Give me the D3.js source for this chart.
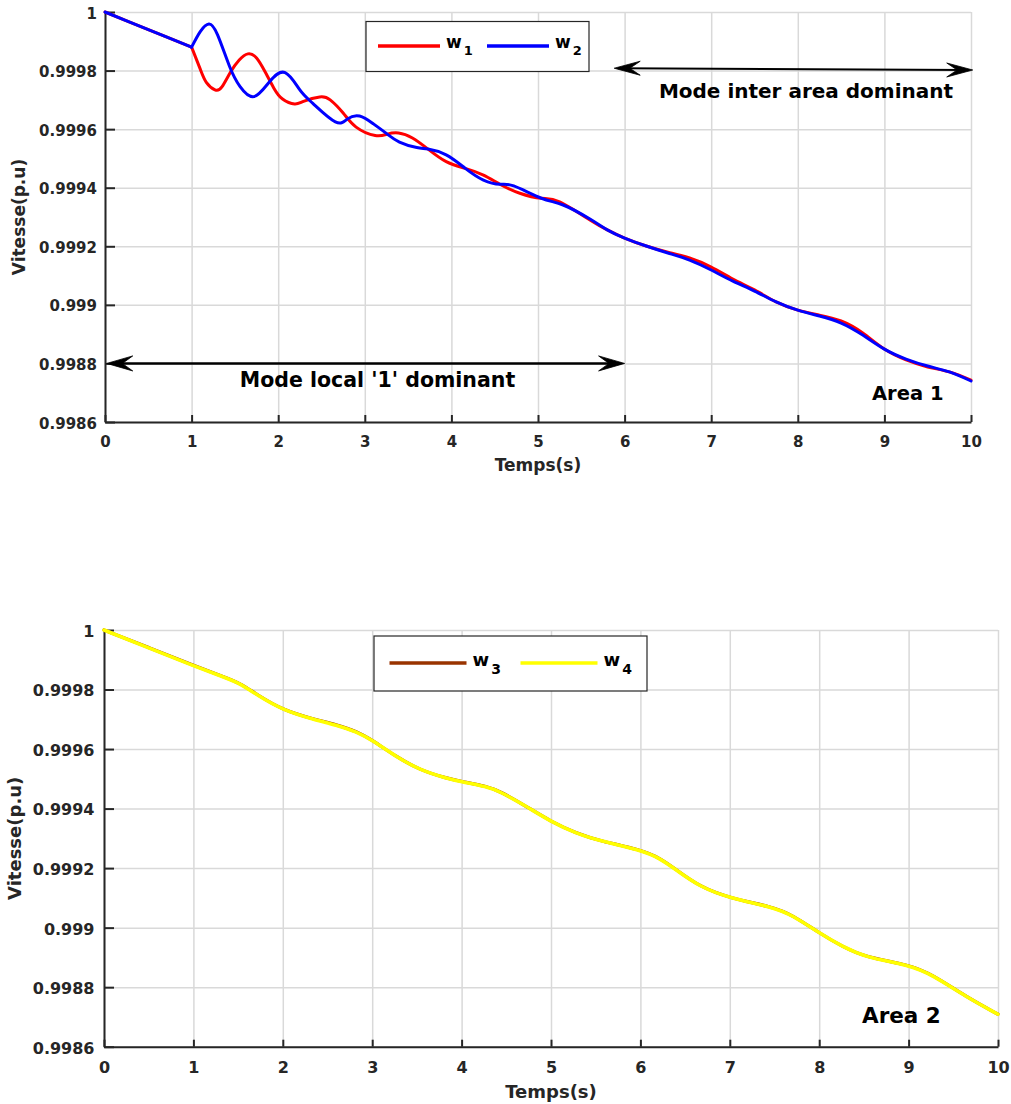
<!DOCTYPE html>
<html>
<head>
<meta charset="utf-8">
<script src="https://cdn.jsdelivr.net/npm/d3@7"></script>
<style>
  html, body { margin: 0; padding: 0; background: #fff; }
  svg { display: block; }
  text { font-family: "DejaVu Sans", sans-serif; font-weight: bold; }
</style>
</head>
<body>
<svg id="chart" width="1011" height="1104"></svg>
<script>
// ---- axis ticks ----
const timeTicks = [0, 1, 2, 3, 4, 5, 6, 7, 8, 9, 10];
const speedTicks = [0.9986, 0.9988, 0.999, 0.9992, 0.9994, 0.9996, 0.9998, 1];
const speedTickLabels = ["0.9986", "0.9988", "0.999", "0.9992", "0.9994", "0.9996", "0.9998", "1"];

// ---- Area 1: rotor speeds (p.u.) ----
const w1Time = [0, 0.5, 1.0, 1.1, 1.17, 1.27, 1.35, 1.45, 1.55, 1.65, 1.75, 1.85, 1.95, 2.05, 2.19, 2.3, 2.48, 2.6, 2.75, 2.9,
  3.12, 3.26, 3.39, 3.55, 3.73, 3.94, 4.16, 4.37, 4.56, 4.79, 5.04, 5.25, 5.6, 5.8, 6.0, 6.25, 6.5, 6.75, 7.0, 7.25, 7.5,
  7.75, 8.0, 8.25, 8.5, 8.75, 9.0, 9.25, 9.5, 9.75, 10];
const w1Speed = [1.000000, 0.999940, 0.999880, 0.999805, 0.999760, 0.999734, 0.999744, 0.999795, 0.999836, 0.999857,
  0.999843, 0.999795, 0.999740, 0.999703, 0.999686, 0.999696, 0.999710, 0.999700, 0.999655, 0.999607,
  0.999578, 0.999583, 0.999587, 0.999570, 0.999532, 0.999489, 0.999466, 0.999443, 0.999412, 0.999381,
  0.999364, 0.999352, 0.999290, 0.999256, 0.999228, 0.999201, 0.999180, 0.999160, 0.999129, 0.999088,
  0.999051, 0.999010, 0.998982, 0.998965, 0.998945, 0.998904, 0.998849, 0.998812, 0.998788, 0.998771, 0.998743];

const w2Time = [0, 0.5, 1.0, 1.1, 1.2, 1.3, 1.44, 1.56, 1.72, 1.9, 2.08, 2.25, 2.4, 2.66, 2.8, 2.94, 3.1, 3.26, 3.4, 3.6,
  3.73, 3.94, 4.16, 4.37, 4.56, 4.72, 5.04, 5.29, 5.6, 5.8, 6.0, 6.25, 6.5, 6.75, 7.0, 7.25, 7.5, 7.75, 8.0, 8.25,
  8.5, 8.75, 9.0, 9.25, 9.5, 9.75, 10];
const w2Speed = [1.000000, 0.999940, 0.999880, 0.999933, 0.999959, 0.999922, 0.999813, 0.999745, 0.999711, 0.999762,
  0.999793, 0.999734, 0.999688, 0.999625, 0.999635, 0.999645, 0.999618, 0.999583, 0.999556, 0.999537,
  0.999532, 0.999512, 0.999466, 0.999426, 0.999412, 0.999406, 0.999364, 0.999341, 0.999293, 0.999256,
  0.999228, 0.999201, 0.999177, 0.999153, 0.999119, 0.999081, 0.999047, 0.999010, 0.998982, 0.998962,
  0.998938, 0.998897, 0.998849, 0.998815, 0.998791, 0.998771, 0.998740];

// ---- Area 2: rotor speeds (p.u.) ----
const area2Time = [0, 0.5, 1.0, 1.33, 1.52, 1.71, 2.0, 2.34, 2.6, 2.83, 3.0, 3.27, 3.53, 3.83, 4.0, 4.28, 4.43, 4.7,
  5.0, 5.28, 5.54, 6.0, 6.22, 6.4, 6.66, 7.0, 7.48, 7.7, 8.0, 8.26, 8.52, 9.0, 9.27, 9.64, 10];
const w3Speed = [1.000000, 0.999941, 0.999881, 0.999844, 0.999822, 0.999783, 0.999731, 0.999701, 0.999682, 0.999659,
  0.999630, 0.999574, 0.999530, 0.999502, 0.999491, 0.999475, 0.999458, 0.999412, 0.999356, 0.999318,
  0.999292, 0.999262, 0.999234, 0.999195, 0.999138, 0.999099, 0.999070, 0.999043, 0.998982, 0.998936,
  0.998900, 0.998876, 0.998842, 0.998768, 0.998709];
const w4Speed = [1.000000, 0.999940, 0.999880, 0.999843, 0.999821, 0.999782, 0.999731, 0.999700, 0.999681, 0.999658,
  0.999630, 0.999574, 0.999530, 0.999502, 0.999490, 0.999474, 0.999457, 0.999412, 0.999356, 0.999317,
  0.999292, 0.999261, 0.999233, 0.999194, 0.999138, 0.999099, 0.999069, 0.999042, 0.998982, 0.998936,
  0.998900, 0.998875, 0.998841, 0.998768, 0.998709];

const zip = (t, v) => t.map((d, i) => [d, v[i]]);

const svg = d3.select("#chart");
const AXIS = "#262626";
const GRID = "#d9d9d9";

function drawArrowHead(g, tipX, tipY, dir, size, width) {
  // concave arrow head pointing in direction dir (+1 right, -1 left)
  const L = size, W = width, N = size * 0.6;
  const p = d3.path();
  p.moveTo(tipX, tipY);
  p.lineTo(tipX - dir * L, tipY - W);
  p.lineTo(tipX - dir * N, tipY);
  p.lineTo(tipX - dir * L, tipY + W);
  p.closePath();
  g.append("path").attr("d", p.toString()).attr("fill", "#000").attr("stroke", "#000").attr("stroke-width", 0.8);
}

function drawPanel(opt) {
  const g = svg.append("g");
  const x = d3.scaleLinear().domain([0, 10]).range([opt.left, opt.right]);
  const y = d3.scaleLinear().domain([0.9986, 1]).range([opt.bottom, opt.top]);

  // grid
  g.append("g")
    .attr("transform", `translate(0,${opt.bottom})`)
    .call(d3.axisBottom(x).tickValues(timeTicks).tickSize(-(opt.bottom - opt.top)).tickFormat(""))
    .call(s => {
      s.select(".domain").remove();
      s.selectAll("line").attr("stroke", GRID).attr("stroke-width", 1.5);
    });
  g.append("g")
    .attr("transform", `translate(${opt.left},0)`)
    .call(d3.axisLeft(y).tickValues(speedTicks).tickSize(-(opt.right - opt.left)).tickFormat(""))
    .call(s => {
      s.select(".domain").remove();
      s.selectAll("line").attr("stroke", GRID).attr("stroke-width", 1.5);
    });

  // axes with inward ticks
  const xAxis = g.append("g")
    .attr("transform", `translate(0,${opt.bottom})`)
    .call(d3.axisBottom(x).tickValues(timeTicks).tickSizeInner(-7).tickSizeOuter(0)
      .tickPadding(opt.xPad).tickFormat(d3.format("d")));
  const yAxis = g.append("g")
    .attr("transform", `translate(${opt.left},0)`)
    .call(d3.axisLeft(y).tickValues(speedTicks).tickSizeInner(-10).tickSizeOuter(0)
      .tickPadding(opt.yPad).tickFormat((d, i) => speedTickLabels[i]));
  [xAxis, yAxis].forEach(a => {
    a.select(".domain").attr("stroke", AXIS).attr("stroke-width", 2);
    a.selectAll(".tick line").attr("stroke", AXIS).attr("stroke-width", 2);
    a.selectAll(".tick text").attr("fill", AXIS)
      .style("font-size", opt.tickFont + "px");
  });
  yAxis.selectAll(".tick text").attr("dy", "0.4em");

  // axis titles
  g.append("text")
    .attr("x", (opt.left + opt.right) / 2).attr("y", opt.xTitleY)
    .attr("text-anchor", "middle").attr("fill", AXIS)
    .style("font-size", opt.titleFont + "px").text("Temps(s)");
  g.append("text")
    .attr("transform", `translate(${opt.yTitleX},${(opt.top + opt.bottom) / 2}) rotate(-90)`)
    .attr("text-anchor", "middle").attr("fill", AXIS)
    .style("font-size", opt.titleFont + "px").text("Vitesse(p.u)");

  // curves (smooth spline through the sampled points; a kink is kept where the disturbance starts)
  const line = d3.line().x(d => x(d[0])).y(d => y(d[1])).curve(opt.curve);
  opt.series.forEach(s => {
    const pts = zip(s.time, s.values);
    const pieces = s.breakAt != null
      ? [pts.filter(d => d[0] <= s.breakAt), pts.filter(d => d[0] >= s.breakAt)]
      : [pts];
    pieces.forEach(p => {
      g.append("path").attr("d", line(p)).attr("fill", "none")
        .attr("stroke", s.color).attr("stroke-width", s.width)
        .attr("stroke-linejoin", "round").attr("stroke-linecap", "round");
    });
  });

  // legend
  const lg = g.append("g");
  lg.append("rect")
    .attr("x", opt.legend.x).attr("y", opt.legend.y)
    .attr("width", opt.legend.w).attr("height", opt.legend.h)
    .attr("fill", "#fff").attr("stroke", AXIS).attr("stroke-width", 1.2);
  opt.series.forEach((s, i) => {
    const lx = opt.legend.x + opt.legend.pad + i * opt.legend.step;
    const ly = opt.legend.y + opt.legend.lineY;
    lg.append("line")
      .attr("x1", lx).attr("x2", lx + opt.legend.lineLen)
      .attr("y1", ly).attr("y2", ly)
      .attr("stroke", s.color).attr("stroke-width", 3.5);
    const t = lg.append("text")
      .attr("x", lx + opt.legend.lineLen + 6).attr("y", ly + opt.legend.textDy)
      .attr("fill", "#000").style("font-size", opt.legend.font + "px");
    t.append("tspan").text("w");
    t.append("tspan").attr("dx", 2).attr("dy", opt.legend.subDy)
      .style("font-size", opt.legend.subFont + "px").text(s.sub);
  });

  // area label
  g.append("text")
    .attr("x", opt.areaLabel.x).attr("y", opt.areaLabel.y)
    .attr("fill", "#000").style("font-size", opt.areaLabel.font + "px")
    .text(opt.areaLabel.text);

  return { g, x, y };
}

// ---- Area 1 panel ----
const p1 = drawPanel({
  left: 105, right: 971, top: 12, bottom: 422,
  xPad: 14, yPad: 8, tickFont: 15, titleFont: 17,
  xTitleY: 471, yTitleX: 25,
  curve: d3.curveNatural,
  series: [
    { time: w1Time, values: w1Speed, color: "#ff0000", width: 3, sub: "1", breakAt: 1.0 },
    { time: w2Time, values: w2Speed, color: "#0000ff", width: 3, sub: "2", breakAt: 1.0 }
  ],
  legend: { x: 366, y: 21.5, w: 223, h: 50, pad: 12, step: 109, lineLen: 62, lineY: 24.5,
            font: 17, textDy: 2, subDy: 7, subFont: 13 },
  areaLabel: { x: 872, y: 400, font: 19.5, text: "Area 1" }
});

// annotation arrows and texts (Area 1)
{
  const { g, x, y } = p1;
  const y1a = y(0.999808), y1b = y(0.999802);
  const xa = x(5.88), xb = x(10.02);
  g.append("line").attr("x1", xa + 4).attr("x2", xb - 4).attr("y1", y1a).attr("y2", y1b)
    .attr("stroke", "#000").attr("stroke-width", 2);
  drawArrowHead(g, xa, y1a, -1, 26, 7);
  drawArrowHead(g, xb, y1b, 1, 26, 7);
  g.append("text").attr("x", 806).attr("y", 97.5).attr("text-anchor", "middle")
    .attr("fill", "#000").style("font-size", "20px").text("Mode inter area dominant");

  const y2 = y(0.9988);
  const xc = x(0.02), xd = x(6.0);
  g.append("line").attr("x1", xc + 4).attr("x2", xd - 4).attr("y1", y2).attr("y2", y2)
    .attr("stroke", "#000").attr("stroke-width", 2.5);
  drawArrowHead(g, xc, y2, -1, 26, 7.5);
  drawArrowHead(g, xd, y2, 1, 26, 7.5);
  g.append("text").attr("x", 377.5).attr("y", 387).attr("text-anchor", "middle")
    .attr("fill", "#000").style("font-size", "20.5px").text("Mode local '1' dominant");
}

// ---- Area 2 panel ----
drawPanel({
  left: 104, right: 998, top: 630, bottom: 1046.7,
  xPad: 15, yPad: 9.5, tickFont: 16, titleFont: 18,
  xTitleY: 1098, yTitleX: 21,
  curve: d3.curveBasis,
  series: [
    { time: area2Time, values: w3Speed, color: "#993300", width: 3.2, sub: "3" },
    { time: area2Time, values: w4Speed, color: "#ffff00", width: 3.6, sub: "4" }
  ],
  legend: { x: 374, y: 636, w: 273, h: 55, pad: 15.5, step: 131, lineLen: 77, lineY: 27,
            font: 18, textDy: 3, subDy: 8, subFont: 14 },
  areaLabel: { x: 862, y: 1022.5, font: 21.5, text: "Area 2" }
});
</script>
</body>
</html>
